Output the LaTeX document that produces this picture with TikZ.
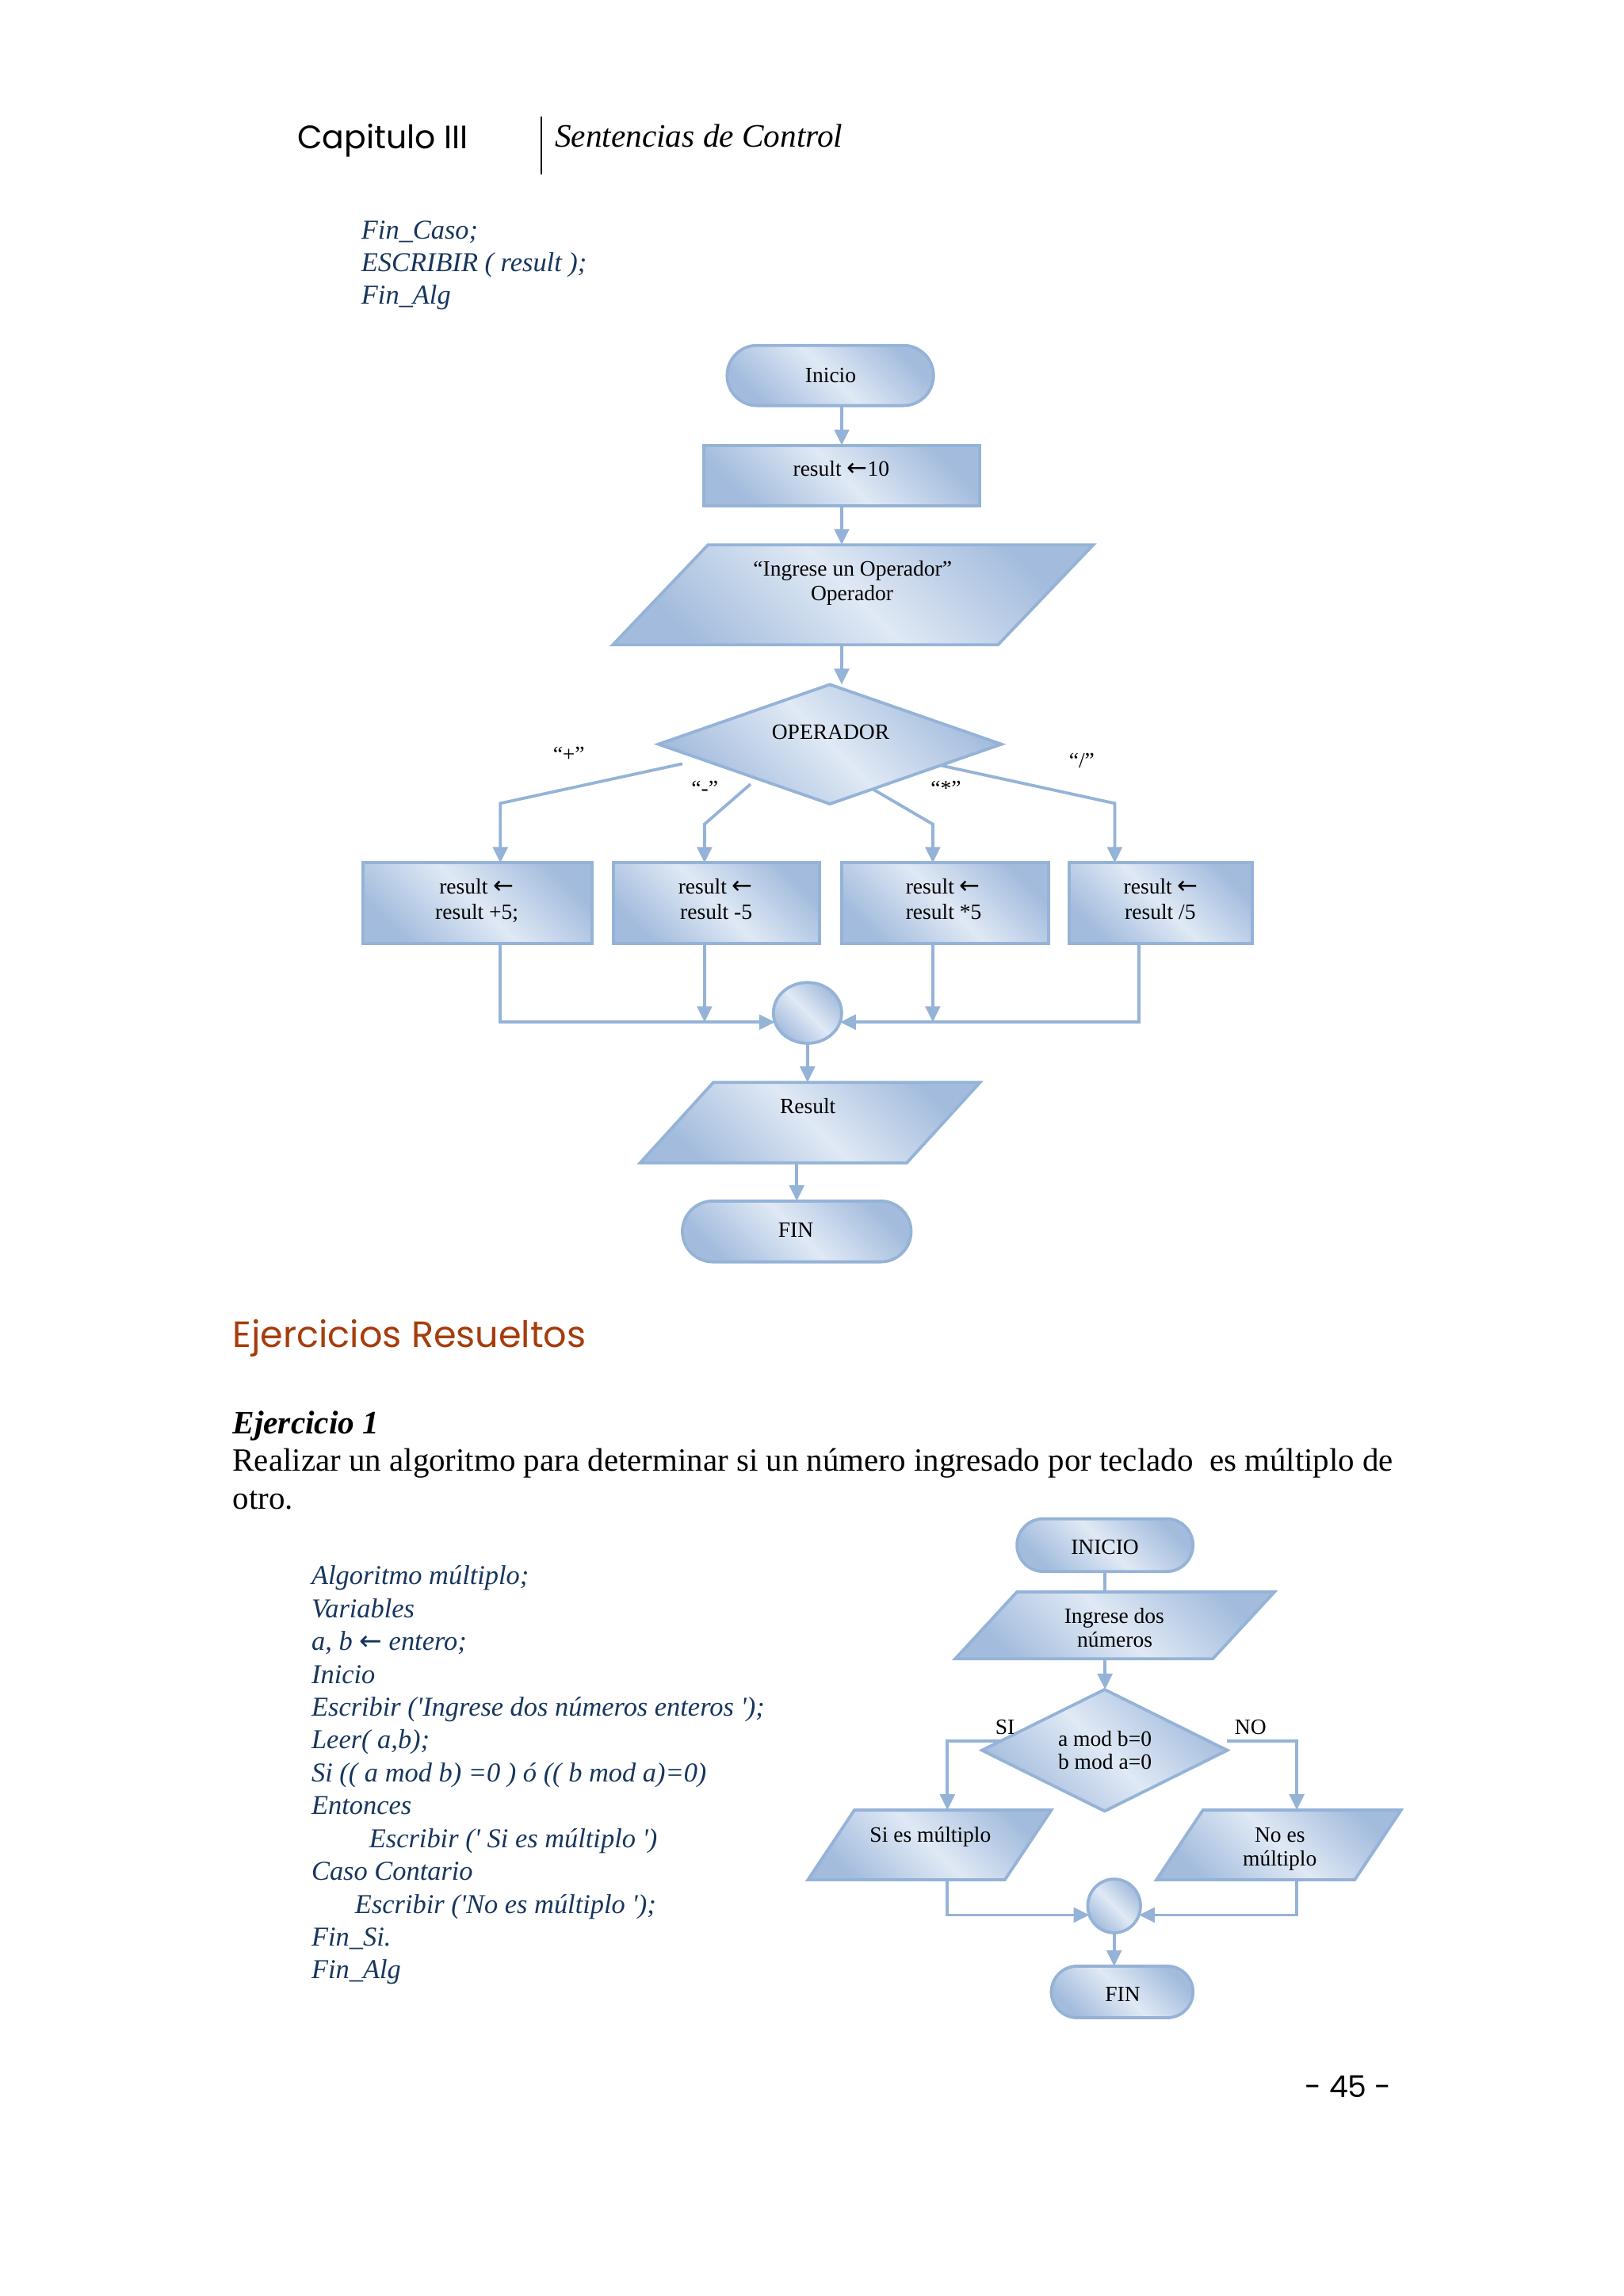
\documentclass[tikz,border=0pt]{standalone}
\usepackage{fontspec}
\setmainfont{Liberation Serif}
\newfontfamily\gothic{Poppins}
\newfontfamily\arrowfont{DejaVu Sans}
\newfontfamily\codefam{Liberation Serif}[Ligatures=TeXOff]
\usetikzlibrary{shapes.geometric,shapes.misc,arrows.meta,backgrounds,calc}
\definecolor{bord}{RGB}{149,179,215}
\definecolor{fdark}{RGB}{163,188,221}
\definecolor{flight}{RGB}{224,233,245}
\definecolor{codeblue}{RGB}{23,54,93}
\definecolor{rust}{RGB}{166,60,12}
\newcommand\arw[1]{{\arrowfont\fontsize{#1}{#1}\selectfont ←}}
\newcommand\drawpara[2]{\shade[shp] ($(#1.north west)+(#2,0)$) -- (#1.north east) -- ($(#1.south east)-(#2,0)$) -- (#1.south west) -- cycle;}
\tikzset{
 shp/.style={draw=bord, line width=1.1pt, top color=fdark, bottom color=fdark, middle color=flight, shading angle=-45, inner sep=0pt, outer sep=0pt},
 wh/.style 2 args={minimum width={(#1)*0.5373pt}, minimum height={(#2)*0.5373pt}},
 term/.style={shp, rounded rectangle},
 proc/.style={shp, rectangle},
 io/.style={rectangle, inner sep=0pt, outer sep=0pt},
 dec/.style={shp, diamond},
 con/.style={shp, ellipse},
 arr/.style={draw=bord, line width=1.1pt, -{Triangle[length=5.8pt,width=5.4pt]}},
 ln/.style={draw=bord, line width=1.1pt},
 ft/.style={inner sep=0pt, anchor=base, font=\fontsize{8}{9}\selectfont},
 bodytxt/.style={inner sep=0pt, anchor=base west, font=\fontsize{11.9}{14}\selectfont},
 codetxt/.style={inner sep=0pt, anchor=base west, text=codeblue, font=\codefam\itshape\fontsize{10}{12}\selectfont},
 codeone/.style={inner sep=0pt, anchor=base west, text=codeblue, font=\itshape\fontsize{10}{12}\selectfont},
}
\begin{document}
\begin{tikzpicture}[x=0.5373pt,y=-0.5373pt]
\begin{scope}[on background layer]
\fill[white] (0,0) rectangle (1108,1566.8);
\end{scope}
\useasboundingbox (0,0) rectangle (1108,1566.8);

% ---------- header ----------
\node[inner sep=0pt, anchor=base west, font=\gothic\fontsize{11.9}{14}\selectfont] (cap) at (202.7,101.3) {Capitulo III};
\draw[line width=0.6pt] (369.7,79.4) -- (369.7,119);
\node[inner sep=0pt, anchor=base west, font=\itshape\fontsize{12}{14}\selectfont] (sec) at (378.4,100.3) {Sentencias de Control};

% ---------- code 1 ----------
\node[codeone] (ca) at (246.3,163.2) {Fin\_Caso;};
\node[codeone] (cb) at (246.3,185.4) {ESCRIBIR ( result );};
\node[codeone] (cc) at (246.3,207.7) {Fin\_Alg};

% ---------- flowchart 1 ----------
\node[term, wh={140.9}{41.1}] (ini) at (566.75,256.25) {};
\node[proc, wh={187.9}{41.4}] (res) at (574.55,324.6) {};
\node[io, wh={327.9}{68.2}] (in1) at (582.3,405.9) {};
\drawpara{in1}{65}
\node[dec, wh={234.2}{81.5}] (op) at (566.5,507.85) {};
\node[proc, wh={156.2}{55}] (b1) at (326,616.3) {};
\node[proc, wh={140.6}{55}] (b2) at (489,616.3) {};
\node[proc, wh={141.1}{55}] (b3) at (645.05,616.3) {};
\node[proc, wh={125.1}{55}] (b4) at (792.35,616.3) {};
\node[con, wh={46.6}{41.5}] (merge) at (551.2,691.2) {};
\node[io, wh={232}{54.9}] (rp) at (553,766.05) {};
\drawpara{rp}{50}
\node[term, wh={156.1}{41.5}] (fin) at (543.85,840.35) {};

\node[ft] (tini) at (567,261.1) {Inicio};
\node[ft] (tres) at (574.2,325) {result \arw{9}10};
\node[ft] (tin1a) at (582,392.8) {“Ingrese un Operador”};
\node[ft] (tin1b) at (581.6,409.9) {Operador};
\node[ft] (top) at (567,504.6) {OPERADOR};
\node[ft] (tb1a) at (325.3,609.9) {result \arw{9}};
\node[ft] (tb1b) at (325.5,627.2) {result +5;};
\node[ft] (tb2a) at (488.4,609.9) {result \arw{9}};
\node[ft] (tb2b) at (488.9,627.2) {result -5};
\node[ft] (tb3a) at (643.7,609.9) {result \arw{9}};
\node[ft] (tb3b) at (644.1,627.2) {result *5};
\node[ft] (tb4a) at (792.4,609.9) {result \arw{9}};
\node[ft] (tb4b) at (792,627.2) {result /5};
\node[ft] (lp) at (388.3,519.4) {“+”};
\node[ft] (lm) at (481.1,542.8) {“-”};
\node[ft] (lx) at (645.7,542.8) {“*”};
\node[ft] (ld) at (738.4,523.9) {“/”};
\node[ft] (trp) at (551.4,759.6) {Result};
\node[ft] (tfin) at (543.2,844.3) {FIN};

\coordinate (s1) at (465.8,521.2); \coordinate (k1) at (341.5,548.2);
\coordinate (s2) at (512.3,535.1); \coordinate (k2) at (480.9,562.4);
\coordinate (s3) at (590,535.1);   \coordinate (k3) at (636.7,562.4);
\coordinate (s4) at (637,521.2);   \coordinate (k4) at (760.9,548.2);
\coordinate (mL) at (529,697.5);   \coordinate (mR) at (573.4,697.5);
\coordinate (k5) at (777.3,697.5);

\begin{scope}[on background layer]
\draw[arr] (ini.south -| res.north) -- (res.north);
\draw[arr] (res.south) -- (res.south |- in1.north);
\draw[arr] (res.south |- in1.south) -- (res.south |- op.north);
\draw[arr] (s1) -- (k1) -- (k1 |- b1.north);
\draw[arr] (s2) -- (k2) -- (k2 |- b2.north);
\draw[arr] (s3) -- (k3) -- (k3 |- b3.north);
\draw[arr] (s4) -- (k4) -- (k4 |- b4.north);
\draw[arr] (b1.south -| k1) -- (k1 |- mL) -- (mL);
\draw[arr] (b2.south -| k2) -- (k2 |- mL);
\draw[arr] (b3.south -| k3) -- (k3 |- mL);
\draw[arr] (b4.south -| k5) -- (k5) -- (mR);
\draw[arr] (merge.south) -- (merge.south |- rp.north);
\draw[arr] (fin.north |- rp.south) -- (fin.north);
\end{scope}

% ---------- section ----------
\node[inner sep=0pt, anchor=base west, text=rust, font=\gothic\fontsize{13.4}{16}\selectfont] (ejr) at (158.5,919.7) {Ejercicios Resueltos};
\node[bodytxt, font=\bfseries\itshape\fontsize{12}{14}\selectfont] (ej1) at (158.5,978.3) {Ejercicio 1};
\node[bodytxt] (p1) at (158.5,1003.6) {Realizar un algoritmo para determinar si un número ingresado por teclado\ \ es múltiplo de};
\node[bodytxt] (p2) at (158.5,1029.7) {otro.};

% ---------- code 2 ----------
\node[codetxt] (d1) at (212.3,1081.3) {Algoritmo múltiplo;};
\node[codetxt] (d2) at (212.3,1103.7) {Variables};
\node[codetxt] (d3) at (212.3,1126.1) {a, b \textcolor{codeblue}{\arw{10}} entero;};
\node[codetxt] (d4) at (212.3,1148.6) {Inicio};
\node[codetxt] (d5) at (212.3,1171.0) {Escribir ('Ingrese dos números enteros ');};
\node[codetxt] (d6) at (212.3,1193.4) {Leer( a,b);};
\node[codetxt] (d7) at (212.3,1215.8) {Si (( a mod b) =0 ) ó (( b mod a)=0)};
\node[codetxt] (d8) at (212.3,1238.2) {Entonces};
\node[codetxt] (d9) at (251.7,1260.7) {Escribir (' Si es múltiplo ')};
\node[codetxt] (d10) at (212.3,1283.1) {Caso Contario};
\node[codetxt] (d11) at (242,1305.5) {Escribir ('No es múltiplo ');};
\node[codetxt] (d12) at (212.3,1327.9) {Fin\_Si.};
\node[codetxt] (d13) at (212.3,1350.3) {Fin\_Alg};

% ---------- flowchart 2 ----------
\node[term, wh={120.1}{36}] (ini2) at (754.25,1054.4) {};
\node[io, wh={218}{45.7}] (in2) at (761,1109.15) {};
\drawpara{in2}{42.2}
\node[dec, wh={167.5}{83}] (dia2) at (754,1194.4) {};
\node[io, wh={166.1}{47.6}] (parSi) at (634.55,1259) {};
\drawpara{parSi}{31.7}
\node[io, wh={167}{47.6}] (parNo) at (872.9,1259) {};
\drawpara{parNo}{31.7}
\node[con, wh={36}{36.6}] (merge2) at (760.5,1300.6) {};
\node[term, wh={96.7}{35.2}] (fin2) at (766,1359.3) {};

\node[ft] (tini2) at (754.2,1060.9) {INICIO};
\node[ft] (tin2a) at (760.6,1108) {Ingrese dos};
\node[ft] (tin2b) at (761,1124.1) {números};
\node[ft] (tdia2a) at (754.2,1191.4) {a mod b=0};
\node[ft] (tdia2b) at (754.2,1207.5) {b mod a=0};
\node[ft] (lsi) at (686,1183.7) {SI};
\node[ft] (lno) at (853.6,1183.7) {NO};
\node[ft] (tsi) at (635.1,1257.1) {Si es múltiplo};
\node[ft] (tnoa) at (873.6,1257.1) {No es};
\node[ft] (tnob) at (873.6,1273.2) {múltiplo};
\node[ft] (tfin2) at (766.4,1365.7) {FIN};

\coordinate (sS) at (687,1187.9);   \coordinate (kS) at (646.7,1187.9);
\coordinate (sN) at (837.7,1187.9); \coordinate (kN) at (885.2,1187.9);
\coordinate (m2L) at (743.6,1306.8); \coordinate (m2R) at (777.4,1306.8);

\begin{scope}[on background layer]
\draw[ln] (ini2.south) -- (ini2.south |- in2.north);
\draw[arr] (ini2.south |- in2.south) -- (ini2.south |- dia2.north);
\draw[arr] (sS) -- (kS) -- (kS |- parSi.north);
\draw[arr] (sN) -- (kN) -- (kN |- parNo.north);
\draw[arr] (parSi.south -| kS) -- (kS |- m2L) -- (m2L);
\draw[arr] (parNo.south -| kN) -- (kN |- m2R) -- (m2R);
\draw[arr] (merge2.south) -- (merge2.south |- fin2.north);
\end{scope}

% ---------- page number ----------
\node[inner sep=0pt, anchor=base, font=\gothic\fontsize{11}{13}\selectfont] (pg) at (920.2,1431) {- 45 -};
\end{tikzpicture}
\end{document}
